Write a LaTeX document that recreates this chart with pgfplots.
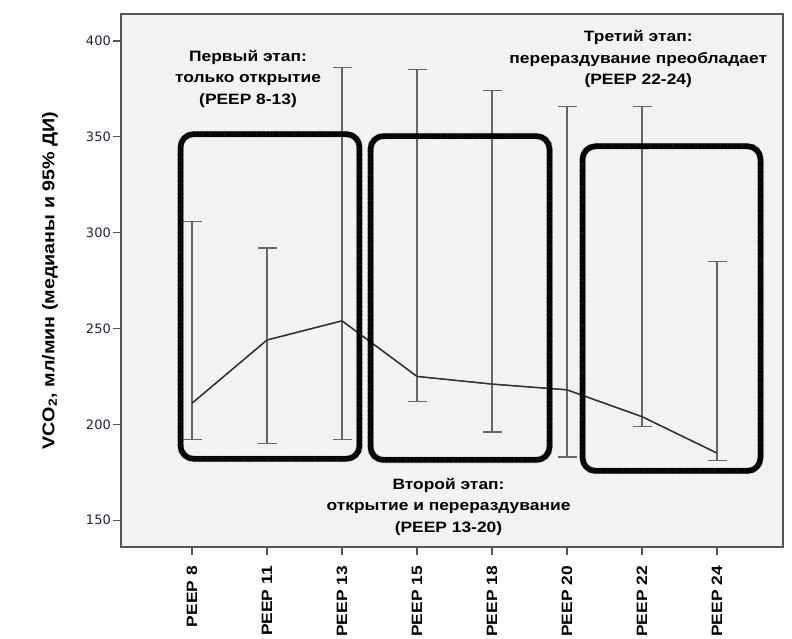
\documentclass[border=0pt]{standalone}
\usepackage{pgfplots}
\pgfplotsset{compat=1.18}
\usepackage{pgfplotstable}
\usepackage{fontspec}
\setmainfont{Liberation Sans}
\newfontfamily\chartfont[FakeStretch=1.16]{Liberation Sans}
\newfontfamily\tickfont{DejaVu Sans}

\definecolor{panel}{HTML}{F2F2F2}
\definecolor{frame}{HTML}{555555}
\definecolor{medline}{HTML}{333333}
\definecolor{cigray}{HTML}{666666}
\definecolor{ticknum}{HTML}{22223A}

% median and 95% CI of VCO2 for each PEEP step
\pgfplotstableread{
x med lo  hi
0 211 192 306
1 244 190 292
2 254 192 386
3 225 212 385
4 221 196 374
5 218 183 366
6 204 199 366
7 185 181 285
}\vcodata

\tikzset{
  stagebox/.style={line width=5.5pt, black, rounded corners=13pt},
  stageedge/.style={line width=6.6pt, black, opacity=0.4, rounded corners=13pt,
                    dash pattern=on 0.5pt off 0.8pt},
  stagegrain/.style={line width=3.6pt, white, opacity=0.12, rounded corners=13pt,
                     dash pattern=on 0.4pt off 1.9pt},
  stagetext/.style={align=center, font=\fontsize{15}{21.5}\selectfont\chartfont\bfseries}
}

% grainy rounded frame around one stage
\newcommand{\stageframe}[4]{%
  \draw[stageedge] (axis cs:#1,#2) rectangle (axis cs:#3,#4);
  \draw[stagebox] (axis cs:#1,#2) rectangle (axis cs:#3,#4);
  \draw[stagegrain] (axis cs:#1,#2) rectangle (axis cs:#3,#4);
}

\begin{document}
\begin{tikzpicture}
\begin{axis}[
  scale only axis,
  width=662pt, height=533pt,
  xmin=-0.947, xmax=7.88,
  ymin=136.0, ymax=414.1,
  axis background/.style={fill=panel},
  axis line style={draw=frame, line width=1.2pt},
  xtick={0,...,7},
  xticklabels={PEEP 8,PEEP 11,PEEP 13,PEEP 15,PEEP 18,PEEP 20,PEEP 22,PEEP 24},
  xticklabel style={rotate=90, anchor=east, font=\fontsize{15}{17}\selectfont\chartfont\bfseries, inner sep=0pt},
  xticklabel shift=11pt,
  ytick={150,200,...,400},
  yticklabel style={font=\fontsize{13}{15}\selectfont\tickfont, color=ticknum, inner sep=2pt},
  /pgf/number format/assume math mode=true,
  tick align=outside,
  xtick pos=bottom, ytick pos=left,
  major tick length=8pt,
  tick style={draw=frame, line width=1.2pt},
  ylabel={VCO\textsubscript{2}, мл/мин (медианы и 95\% ДИ)},
  ylabel style={at={(axis description cs:-0.1073,0.5)}, anchor=center,
                font=\fontsize{17}{20}\selectfont\chartfont\bfseries},
  clip=false,
]
  \addplot[color=medline, line width=1.3pt, mark=none,
    error bars/.cd, y dir=both, y explicit,
    error bar style={color=cigray, line width=1.2pt},
    error mark options={rotate=90, mark size=9.5pt, line width=1.2pt, color=cigray}]
    table[x=x, y=med,
          y error plus expr=\thisrow{hi}-\thisrow{med},
          y error minus expr=\thisrow{med}-\thisrow{lo}] {\vcodata};
  \addplot[color=medline, line width=1.3pt, mark=none] table[x=x, y=med] {\vcodata};

  % stage outlines
  \stageframe{-0.153}{182}{2.233}{351.4}
  \stageframe{2.38}{181.4}{4.767}{350.4}
  \stageframe{5.207}{175.7}{7.58}{345.1}

  \node[stagetext] at (axis cs:0.747,380.4) {Первый этап:\\только открытие\\(PEEP 8-13)};
  \node[stagetext] at (axis cs:3.42,157.1) {Второй этап:\\открытие и перераздувание\\(PEEP 13-20)};
  \node[stagetext] at (axis cs:5.95,390.4) {Третий этап:\\перераздувание преобладает\\(PEEP 22-24)};

  \coordinate (sw) at (rel axis cs:0,0);
  \coordinate (ne) at (rel axis cs:1,1);
\end{axis}
\pgfresetboundingbox
\path ([xshift=-121pt,yshift=-92pt]sw) rectangle ([xshift=9pt,yshift=14pt]ne);
\end{tikzpicture}
\end{document}
